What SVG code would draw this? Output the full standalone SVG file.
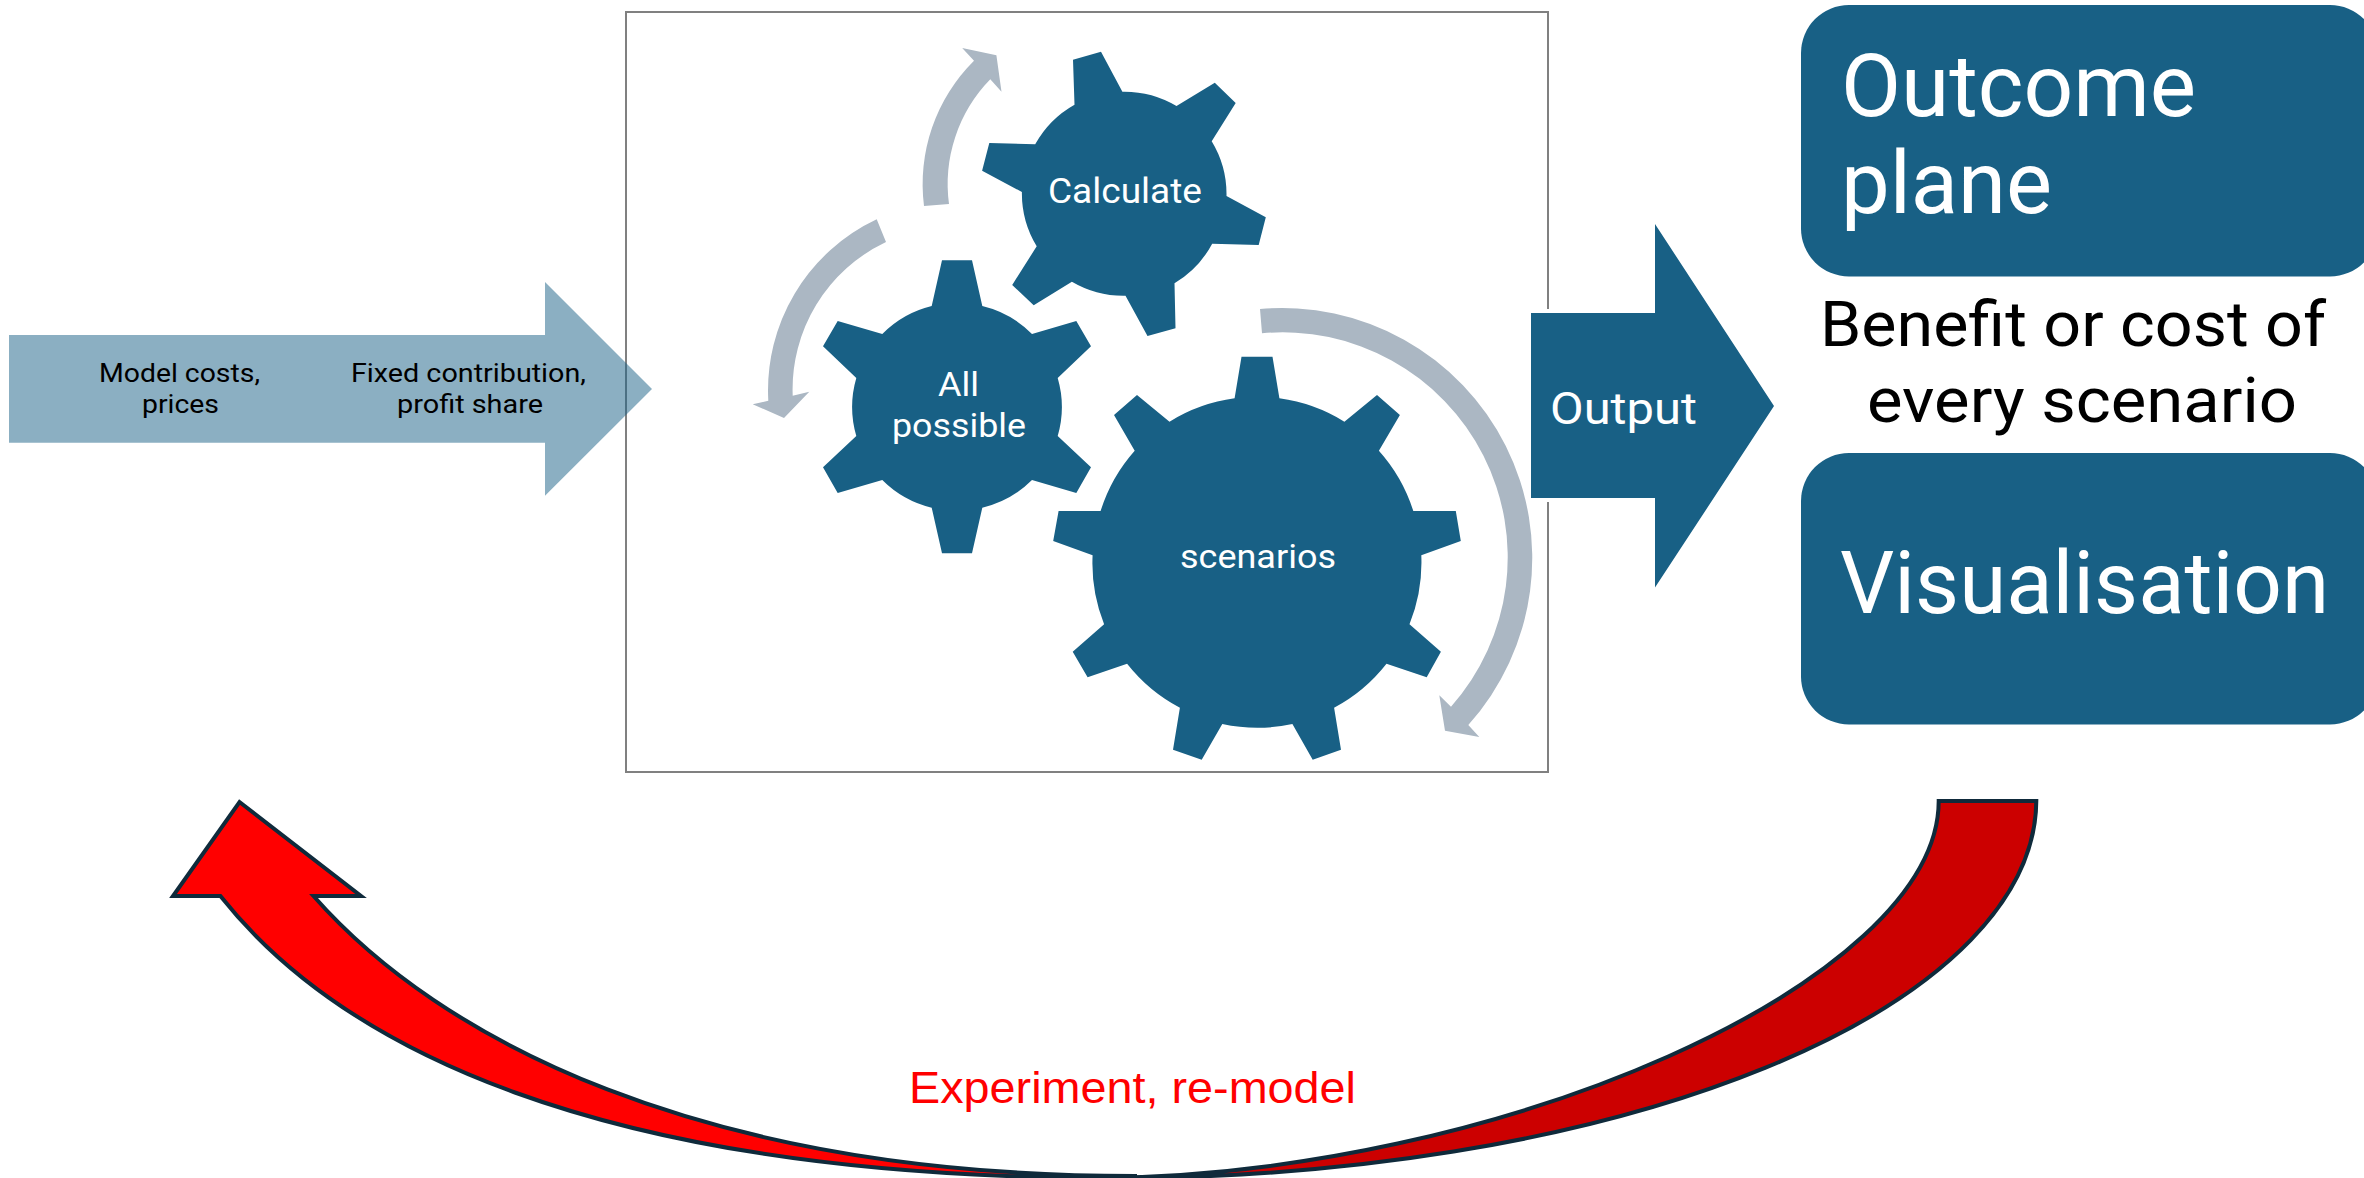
<svg xmlns="http://www.w3.org/2000/svg" width="2364" height="1178" viewBox="0 0 2364 1178">
<style>
text{font-family:Roboto,"Liberation Sans",sans-serif}
.w{fill:#fff}.k{fill:#000}
.gear{fill:#186085}
.cyc{fill:#abb7c3}
.box{fill:#186085}
.red{stroke:#0f2a3b;stroke-width:4;stroke-linejoin:miter}
</style>
<rect width="2364" height="1178" fill="#fff"/>
<g id="frame"><rect x="626" y="12" width="922" height="760" fill="#fff" stroke="#808080" stroke-width="2"/></g>
<g id="connectors">
<path id="input-arrow" d="M9 335H545V282L652 389L545 495.7V442.7H9Z" fill="#186085" fill-opacity=".5"/>
<path id="output-arrow" d="M1531 313H1655V224L1774 406L1655 587.6V498H1531Z" fill="#186085" stroke="#fff" stroke-width="8" paint-order="stroke"/>
<path id="cycle-a" class="cyc" d="M876.7 219.3A189 189 0 0 0 768.3 400.7L752.7 404.3L784 418L809.3 391.7L792.7 395.7A163 163 0 0 1 886 242Z"/>
<path id="cycle-b" class="cyc" d="M924 206A174 174 0 0 1 974 60.7L962.2 48L996.4 55.3L1001.5 91.7L990.3 79.3A150 150 0 0 0 949 204Z"/>
<path id="cycle-c" class="cyc" d="M1260 309A250 250 0 0 1 1468.3 725L1479.3 737L1445 730.7L1439.3 695.3L1451 706.7A225 225 0 0 0 1262 333.3Z"/>
<path id="loop-back" class="red" fill="#c00" d="M1938.7 801H2036.3A921 378 0 0 1 1115 1178H1095C1500 1176 1938.7 981 1938.7 801Z"/>
<path id="loop-head" class="red" fill="#f00" d="M239.5 802L361 896H313.5C439 1038.5 698 1176 1135 1176V1178H1115C590 1178 338 1044 220.4 896H173Z"/>
</g>
<g id="node-all-possible">
<path class="gear" d="M942 260.3H972L982.3 306A104 104 0 0 1 1032 334L1076.3 321L1091 346.3L1057.7 378A104 104 0 0 1 1057.7 436L1091 467.3L1076.3 493L1032 480A104 104 0 0 1 982.3 507.7L972 553.3H942L931.7 507.7A104 104 0 0 1 882.3 480L837.7 493L823 467.3L856.3 436A104 104 0 0 1 856.3 378L823 346.3L837.7 321L882.3 334A104 104 0 0 1 931.7 306Z"/>
<text class="w" x="938" y="395.7" font-size="34" textLength="41" lengthAdjust="spacingAndGlyphs">All</text>
<text class="w" x="892" y="437.3" font-size="34" textLength="134" lengthAdjust="spacingAndGlyphs">possible</text>
</g>
<g id="node-calculate">
<path class="gear" d="M1073 59.7L1101 51.7L1122.4 91.7A102 102 0 0 1 1176.5 106L1214.8 82.7L1235.7 103L1211.7 141.3A102 102 0 0 1 1226.5 196L1265.8 217.3L1258.7 245L1212.2 243.7A102 102 0 0 1 1174.5 283.3L1175.5 328.3L1147.5 336L1125.5 295.7A102 102 0 0 1 1071.9 281.7L1033.7 305.3L1012.2 285L1036.7 246.3A102 102 0 0 1 1021.9 192L982.1 170.7L989.3 143L1035.2 144.3A102 102 0 0 1 1074.5 104.7Z"/>
<text class="w" x="1048" y="203.3" font-size="35" textLength="154" lengthAdjust="spacingAndGlyphs">Calculate</text>
</g>
<g id="node-scenarios">
<path class="gear" d="M1241.5 356.7H1272.5L1279.4 398.3A165 165 0 0 1 1344.4 421.7L1377 395L1399.9 415L1378.9 450.7A165 165 0 0 1 1413.3 511H1455.8L1460.8 541L1421.3 555.3A165 165 0 0 1 1409.5 624.3L1440.9 651.7L1426.7 677.3L1386.5 663.7A165 165 0 0 1 1334.1 707.7L1341 749.7L1312.7 759.7L1292.4 724A165 165 0 0 1 1222.3 724L1201.7 759.7L1173 749.7L1179.9 707.7A165 165 0 0 1 1127.1 663.7L1087.6 677.3L1072.7 651.7L1104.1 624.3A165 165 0 0 1 1092.6 555.3L1053.2 541L1058.6 511H1100.6A165 165 0 0 1 1134.7 450.7L1114 415L1137 395L1169.5 421.7A165 165 0 0 1 1234.6 398.3Z"/>
<text class="w" x="1180" y="568.3" font-size="34" textLength="156" lengthAdjust="spacingAndGlyphs">scenarios</text>
</g>
<g id="node-outcome-plane">
<rect class="box" x="1801" y="5" width="577" height="271.5" rx="48"/>
<text class="w" x="1841" y="115.6" font-size="88" textLength="355" lengthAdjust="spacingAndGlyphs">Outcome</text>
<text class="w" x="1841" y="213" font-size="88" textLength="211" lengthAdjust="spacingAndGlyphs">plane</text>
</g>
<g id="node-visualisation">
<rect class="box" x="1801" y="453" width="577" height="271.5" rx="48"/>
<text class="w" x="1840" y="612.7" font-size="88" textLength="489" lengthAdjust="spacingAndGlyphs">Visualisation</text>
</g>
<g id="labels">
<text class="k" x="99" y="381.7" font-size="26" textLength="161" lengthAdjust="spacingAndGlyphs">Model costs,</text>
<text class="k" x="142" y="413.3" font-size="26" textLength="77" lengthAdjust="spacingAndGlyphs">prices</text>
<text class="k" x="351" y="381.7" font-size="26" textLength="235" lengthAdjust="spacingAndGlyphs">Fixed contribution,</text>
<text class="k" x="397" y="413.3" font-size="26" textLength="146" lengthAdjust="spacingAndGlyphs">profit share</text>
<text class="w" x="1550" y="424" font-size="45" textLength="147" lengthAdjust="spacingAndGlyphs">Output</text>
<text class="k" x="1820" y="345.5" font-size="63" textLength="506" lengthAdjust="spacingAndGlyphs">Benefit or cost of</text>
<text class="k" x="1867" y="421.5" font-size="63" textLength="430" lengthAdjust="spacingAndGlyphs">every scenario</text>
<text x="909" y="1103" font-size="44" fill="#f00" style="font-family:'Liberation Sans',sans-serif" textLength="447" lengthAdjust="spacingAndGlyphs">Experiment, re-model</text>
</g>
</svg>
